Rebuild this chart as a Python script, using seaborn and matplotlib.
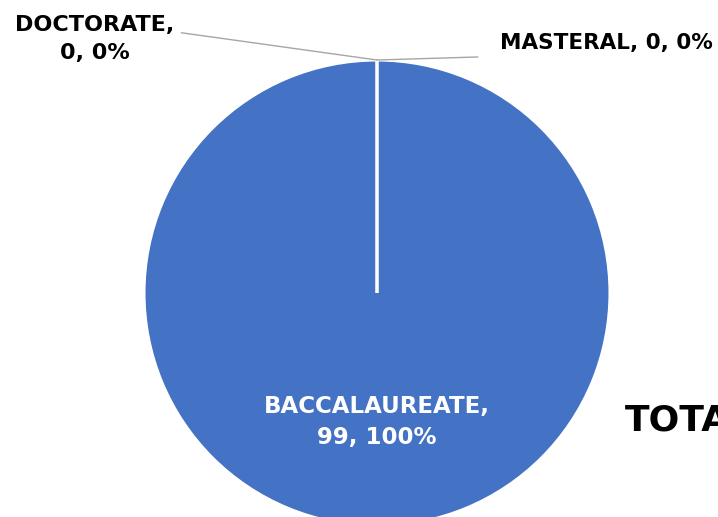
import matplotlib
matplotlib.use("Agg")
import matplotlib.pyplot as plt
import seaborn as sns
import numpy as np

categories = ["BACCALAUREATE", "DOCTORATE", "MASTERAL"]
counts = [99, 0, 0]
colors = ["#4472c4", "#4472c4", "#4472c4"]

sns.set_theme(style="white")
plt.rcParams["font.family"] = ["DejaVu Sans"]

fig = plt.figure(figsize=(7.18, 5.17), dpi=100)
ax = fig.add_axes([0, 0, 1, 1])

wedges, _ = ax.pie(
    counts,
    colors=colors,
    startangle=90,
    counterclock=False,
    radius=1,
    wedgeprops=dict(edgecolor="white", linewidth=2.2),
)

total = sum(counts)
labels = [f"{c},\n{v}, {v / total:.0%}" for c, v in zip(categories, counts)]


def edge_point(w):
    th = np.deg2rad(w.theta1)
    return w.r * np.cos(th), w.r * np.sin(th)


lead = dict(arrowstyle="-", color="#a6a6a6", lw=1, shrinkA=0, shrinkB=0)
txt = dict(fontsize=16, fontweight="bold", color="black")

# inside label for the big slice
ax.text(0, -0.555, labels[0], ha="center", va="center",
        color="white", fontsize=16.5, fontweight="bold", linespacing=1.45)

# doctorate, left leader
ax.annotate("", xy=edge_point(wedges[1]), xytext=(-0.84, 1.117), arrowprops=lead)
ax.text(-1.21, 1.088, labels[1], ha="center", va="center", linespacing=1.5, **txt)

# masteral, right leader
ax.annotate("", xy=edge_point(wedges[2]), xytext=(0.433, 1.013), arrowprops=lead)
ax.text(0.528, 1.073, f"{categories[2]}, {counts[2]}, {counts[2] / total:.0%}",
        ha="left", va="center", fontsize=15.5, fontweight="bold", color="black")

ax.text(1.064, -0.549, "TOTAL", ha="left", va="center",
        fontsize=26, fontweight="bold", color="black")

ax.set_aspect("equal")
ax.set_xlim(-377 / 233, (718 - 377) / 233)
ax.set_ylim((293 - 517) / 233, 293 / 233)
ax.axis("off")

fig.savefig("out.png", dpi=100)
